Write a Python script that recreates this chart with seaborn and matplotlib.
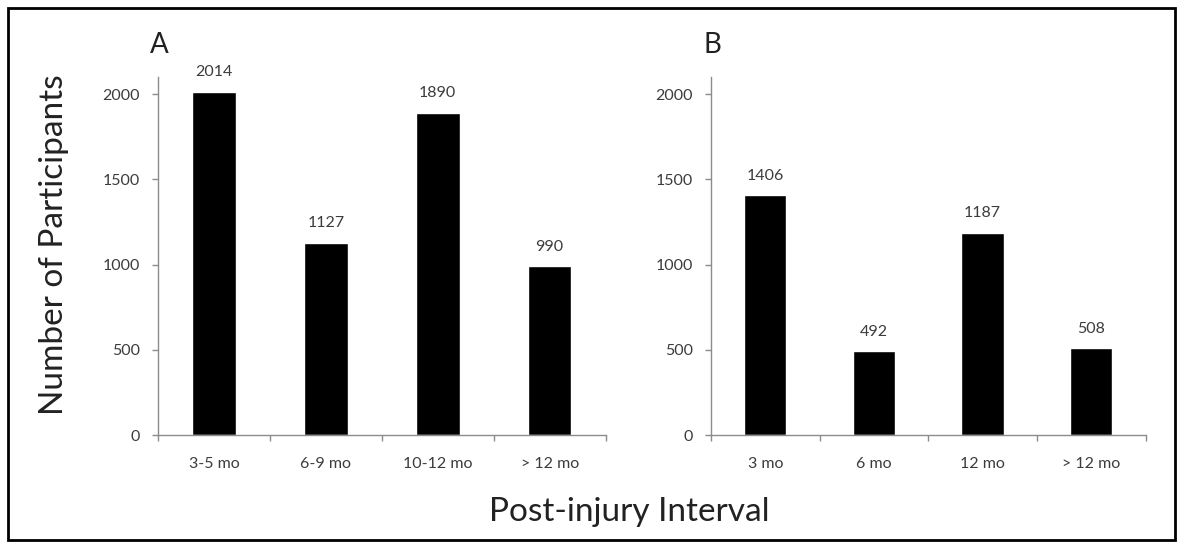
import matplotlib
matplotlib.use("Agg")
import matplotlib.pyplot as plt
import seaborn as sns
import pandas as pd
from matplotlib.patches import Rectangle

# panel A: grouped post-injury intervals
cats_a = ["3-5 mo", "6-9 mo", "10-12 mo", "> 12 mo"]
counts_a = [2014, 1127, 1890, 990]

# panel B: single-timepoint intervals
cats_b = ["3 mo", "6 mo", "12 mo", "> 12 mo"]
counts_b = [1406, 492, 1187, 508]

sns.set_theme(style="white")
plt.rcParams["font.family"] = ["Lato", "DejaVu Sans"]

fig = plt.figure(figsize=(11.81, 5.48), dpi=100)
ax_a = fig.add_axes([0.1338, 0.2062, 0.379, 0.653])
ax_b = fig.add_axes([0.602, 0.2062, 0.368, 0.653])

axis_grey = "#8c8c8c"
text_grey = "#3c3c3c"

for ax, cats, vals, tag in [(ax_a, cats_a, counts_a, "A"), (ax_b, cats_b, counts_b, "B")]:
    df = pd.DataFrame({"interval": cats, "n": vals})
    sns.barplot(data=df, x="interval", y="n", color="black", width=0.39,
                saturation=1, ax=ax)
    ax.set_xlim(-0.5, 3.5)
    ax.set_ylim(0, 2100)
    ax.set_yticks([0, 500, 1000, 1500, 2000])
    ax.set_xlabel("")
    ax.set_ylabel("")
    sns.despine(ax=ax)
    for s in ["left", "bottom"]:
        ax.spines[s].set_color(axis_grey)
        ax.spines[s].set_linewidth(1.0)
    ax.set_xticks([-0.5, 0.5, 1.5, 2.5, 3.5], minor=True)
    ax.tick_params(axis="x", which="major", length=0, pad=16,
                   labelsize=11.5, labelcolor=text_grey)
    ax.tick_params(axis="x", which="minor", length=4, width=1,
                   color=axis_grey, direction="out", bottom=True)
    ax.tick_params(axis="y", length=4, width=1, color=axis_grey,
                   direction="out", left=True, pad=9,
                   labelsize=11.5, labelcolor=text_grey)
    for c in ax.containers:
        ax.bar_label(c, fmt="%d", padding=9, fontsize=11.5, color=text_grey)
    ax.text(-0.018, 1.09, tag, transform=ax.transAxes, fontsize=20,
            color="#222222", ha="left", va="center")

fig.text(0.046, 0.553, "Number of Participants", rotation=90,
         ha="center", va="center", fontsize=24, color="#222222")
fig.text(0.533, 0.066, "Post-injury Interval", ha="center", va="center",
         fontsize=24, color="#222222")

# black frame around the whole figure
fig.patches.append(Rectangle((0.007, 0.015), 0.988, 0.971, transform=fig.transFigure,
                             fill=False, edgecolor="black", linewidth=2))

fig.savefig("out.png", dpi=100)
